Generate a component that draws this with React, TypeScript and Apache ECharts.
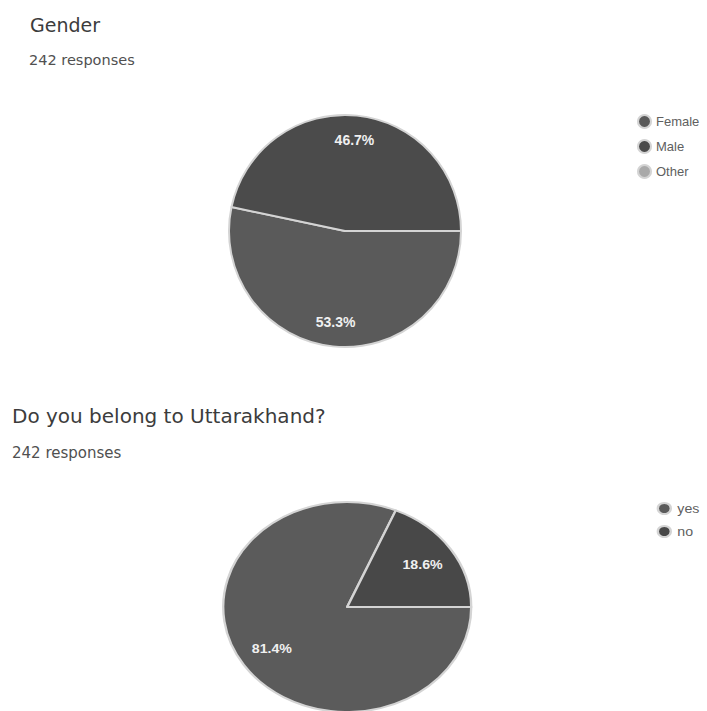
import React, { useEffect, useRef } from "react";
import * as echarts from "echarts";

const genderCategories = ["Female", "Male", "Other"];
const genderValues = [129, 113, 0];
const genderColors = ["#5a5a5a", "#4b4b4b", "#a9a9a9"];

const uttCategories = ["yes", "no"];
const uttValues = [197, 45];
const uttColors = ["#5b5b5b", "#484848"];

const titles = ["Gender", "Do you belong to Uttarakhand?"];
const subtitles = ["242 responses", "242 responses"];

const STRETCH = 1.181;

const labelFmt = (p: any) => (p.value > 0 ? p.percent.toFixed(1) + "%" : "");

function pieSeries(names: string[], values: number[], colors: string[], center: number[], r: number, r0: number, fontSize: number) {
  const data = names.map((n, i) => ({ name: n, value: values[i], itemStyle: { color: colors[i] } }));
  return [
    {
      type: "pie",
      center,
      radius: [0, r],
      startAngle: 0,
      clockwise: true,
      avoidLabelOverlap: false,
      label: { show: false },
      labelLine: { show: false },
      emphasis: { disabled: true },
      itemStyle: { borderColor: "#d4d4d4", borderWidth: 2 },
      data,
    },
    {
      type: "pie",
      center,
      radius: [r0, r],
      startAngle: 0,
      clockwise: true,
      silent: true,
      legendHoverLink: false,
      avoidLabelOverlap: false,
      label: {
        show: true,
        position: "inside",
        formatter: labelFmt,
        color: "#f0f0f0",
        fontSize,
        fontWeight: "bold",
        fontFamily: "Liberation Sans, Arial, sans-serif",
      },
      labelLine: { show: false },
      emphasis: { disabled: true },
      itemStyle: { color: "rgba(0,0,0,0)", borderWidth: 0 },
      data: names.map((n, i) => ({ name: n, value: values[i] })),
    },
  ];
}

export default function App() {
  const mainRef = useRef<HTMLDivElement>(null);
  const lowRef = useRef<HTMLDivElement>(null);

  useEffect(() => {
    const main = echarts.init(mainRef.current!, undefined, { renderer: "svg" });
    const low = echarts.init(lowRef.current!, undefined, { renderer: "svg" });

    const titleStyle = { fontFamily: "DejaVu Sans, sans-serif", fontSize: 19, fontWeight: "normal", color: "#3c3c3c" };
    const subStyle = { fontFamily: "DejaVu Sans, sans-serif", fontSize: 14.5, fontWeight: "normal", color: "#505050" };

    main.setOption({
      animation: false,
      title: [
        { text: titles[0], left: 25, top: 10, textStyle: titleStyle },
        { text: subtitles[0], left: 24, top: 47, textStyle: subStyle },
        { text: titles[1], left: 7, top: 401, textStyle: { ...titleStyle, fontSize: 20 } },
        { text: subtitles[1], left: 7, top: 440, textStyle: { ...subStyle, fontSize: 15 } },
      ],
      legend: {
        orient: "vertical",
        left: 632,
        top: 109,
        icon: "circle",
        itemWidth: 13,
        itemHeight: 13,
        itemGap: 10,
        textStyle: { fontSize: 13, color: "#606060", fontFamily: "Liberation Sans, Arial, sans-serif" },
        data: genderCategories.map((n, i) => ({ name: n, itemStyle: { color: genderColors[i] } })),
      },
      series: pieSeries(genderCategories, genderValues, genderColors, [345, 231], 116, 60, 14),
    });

    low.setOption({
      animation: false,
      legend: {
        orient: "vertical",
        left: 551,
        top: 27,
        icon: "circle",
        itemWidth: 12,
        itemHeight: 11,
        itemGap: 10,
        textStyle: { fontSize: 12, color: "#606060", fontFamily: "Liberation Sans, Arial, sans-serif" },
        data: uttCategories.map((n, i) => ({ name: n, itemStyle: { color: uttColors[i] } })),
      },
      series: pieSeries(uttCategories, uttValues, uttColors, [294, 137], 105, 42, 12),
    });

    return () => {
      main.dispose();
      low.dispose();
    };
  }, []);

  return (
    <div style={{ position: "fixed", left: 0, top: 0, width: 707, height: 711, overflow: "hidden", background: "#ffffff" }}>
      <div
        ref={lowRef}
        style={{
          position: "absolute",
          left: 0,
          top: 470,
          width: Math.round(707 / STRETCH),
          height: 241,
          transform: `scaleX(${STRETCH})`,
          transformOrigin: "0 0",
        }}
      />
      <div ref={mainRef} style={{ position: "absolute", left: 0, top: 0, width: 707, height: 711 }} />
    </div>
  );
}
